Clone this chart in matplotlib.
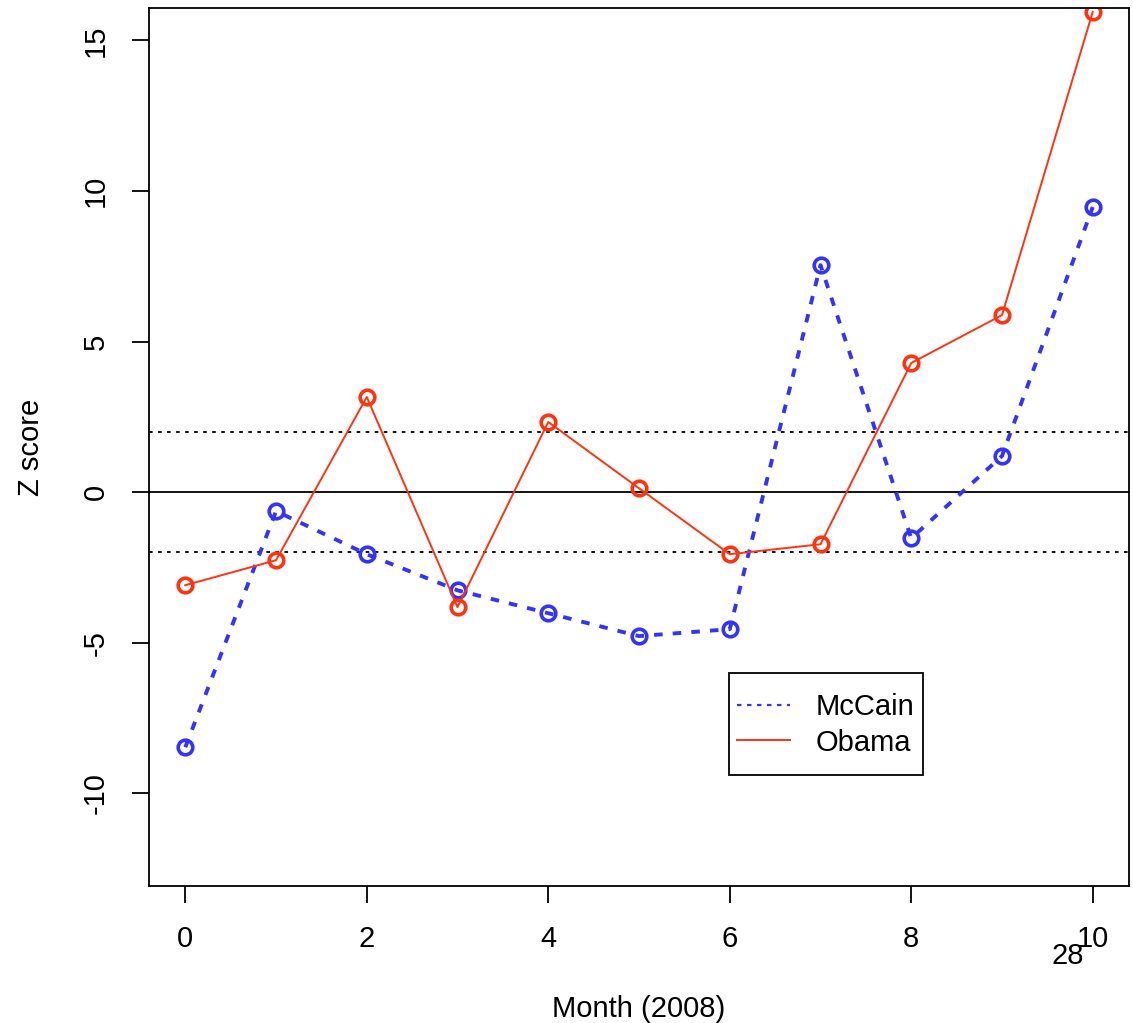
import matplotlib
matplotlib.use("Agg")
import matplotlib.pyplot as plt
from matplotlib.patches import Rectangle
import numpy as np

plt.rcParams['font.family'] = ['Liberation Sans', 'DejaVu Sans']

months = np.arange(0, 11)
mccain = [-8.47, -0.63, -2.06, -3.26, -4.02, -4.78, -4.55, 7.54, -1.53, 1.20, 9.47]
obama = [-3.09, -2.26, 3.16, -3.82, 2.33, 0.13, -2.06, -1.73, 4.29, 5.88, 15.95]
xticks = [0, 2, 4, 6, 8, 10]
yticks = [-10, -5, 0, 5, 10, 15]

blue = "#3333ff"
red = "#ff3311"
fs = 21

fig = plt.figure(figsize=(11.33, 10.23), dpi=100)
ax = fig.add_axes([0.1315, 0.1339, 0.865, 0.8583])

ax.axhline(0, color="black", lw=1.3)
ax.axhline(2, color="black", lw=1.3, ls=(0, (2, 3)))
ax.axhline(-2, color="black", lw=1.3, ls=(0, (2, 3)))

ax.plot(months, mccain, color=blue, lw=2.8, ls=(0, (2.2, 2.6)),
        marker="o", ms=10.5, mfc="none", mec=blue, mew=2.6)
ax.plot(months, obama, color=red, lw=1.4,
        marker="o", ms=10.5, mfc="none", mec=red, mew=2.6)

ax.set_xlim(-0.4, 10.4)
ax.set_ylim(-13.08, 16.08)
ax.set_xticks(xticks)
ax.set_yticks(yticks)
ax.set_yticklabels([str(v) for v in yticks], rotation=90, va="center")
ax.tick_params(labelsize=fs, length=12, width=1.3, direction="out", pad=16)
for s in ax.spines.values():
    s.set_linewidth(1.3)

ax.set_xlabel("Month (2008)", fontsize=fs, labelpad=30)
ax.set_ylabel("Z score", fontsize=fs, labelpad=27)

# legend: R-style box drawn separately, entries without frame
ax.add_patch(Rectangle((0.592, 0.1264), 0.198, 0.1162, transform=ax.transAxes,
                       fill=False, ec="black", lw=1.3, zorder=5))
h1, = ax.plot([], [], color=blue, lw=1.6, ls=(0, (2, 2.5)))
h2, = ax.plot([], [], color=red, lw=1.4)
ax.legend([h1, h2], ["McCain", "Obama"], loc="center left",
          bbox_to_anchor=(0.6, 0.1834), borderaxespad=0, borderpad=0,
          fontsize=fs, frameon=False, handlelength=1.8, handletextpad=0.9,
          labelspacing=0.25)

ax.text(9.72, -15.41, "28", fontsize=fs, ha="center", va="center", clip_on=False)

fig.savefig("out.png", dpi=100)
